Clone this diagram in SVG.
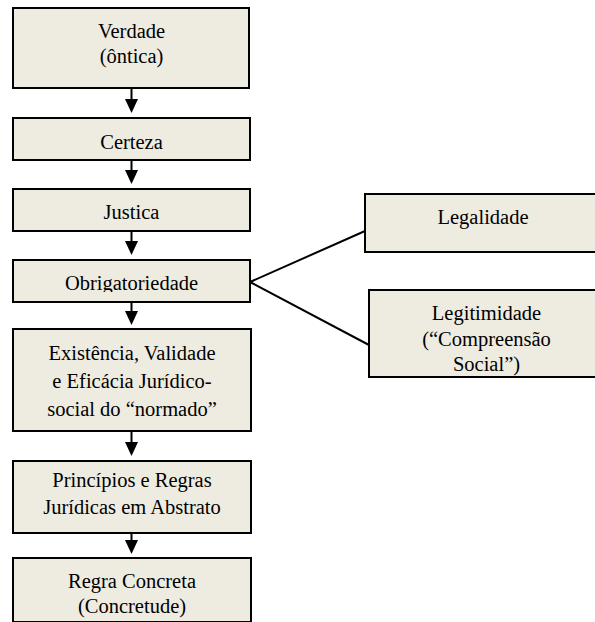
<svg xmlns="http://www.w3.org/2000/svg" width="595" height="622" viewBox="0 0 595 622">
  <defs>
    <style>
      .box { fill: #EEECE1; stroke: #000; stroke-width: 2; }
      .lbl { font-size: 20.5px; fill: #000; text-anchor: middle; }
      .flow { stroke: #000; stroke-width: 2; fill: none; }
    </style>
    <marker id="head" markerUnits="userSpaceOnUse" markerWidth="14" markerHeight="14" refX="10" refY="6.5" orient="auto">
      <path d="M0,0 L14,6.5 L0,13 z" fill="#000"/>
    </marker>
    <clipPath id="obrigClip">
      <rect x="13" y="260" width="237" height="32"/>
    </clipPath>
  </defs>
  <rect width="595" height="622" fill="#fff"/>

  <!-- connectors -->
  <g id="connectors">
    <line class="flow" x1="131.5" y1="88" x2="131.5" y2="109" marker-end="url(#head)"/>
    <line class="flow" x1="131.5" y1="160" x2="131.5" y2="180" marker-end="url(#head)"/>
    <line class="flow" x1="131.5" y1="231" x2="131.5" y2="251" marker-end="url(#head)"/>
    <line class="flow" x1="131.5" y1="302" x2="131.5" y2="321" marker-end="url(#head)"/>
    <line class="flow" x1="131.5" y1="431" x2="131.5" y2="452" marker-end="url(#head)"/>
    <line class="flow" x1="131.5" y1="533" x2="131.5" y2="550" marker-end="url(#head)"/>
    <line class="flow" x1="250" y1="282" x2="365" y2="231"/>
    <line class="flow" x1="250" y1="282" x2="369" y2="345"/>
  </g>

  <g font-family="'Liberation Serif', 'Times New Roman', Times, serif">
    <g id="verdade">
      <rect class="box" x="13" y="8" width="236" height="80"/>
      <text class="lbl" x="131.5" y="38">Verdade</text>
      <text class="lbl" x="131.5" y="63">(ôntica)</text>
    </g>

    <g id="certeza">
      <rect class="box" x="13" y="118" width="237" height="42"/>
      <text class="lbl" x="131.5" y="149">Certeza</text>
    </g>

    <g id="justica">
      <rect class="box" x="13" y="189" width="237" height="42"/>
      <text class="lbl" x="131.5" y="219">Justica</text>
    </g>

    <g id="obrigatoriedade">
      <rect class="box" x="13" y="260" width="237" height="42"/>
      <text class="lbl" x="131.5" y="290" clip-path="url(#obrigClip)">Obrigatoriedade</text>
    </g>

    <g id="existencia">
      <rect class="box" x="13" y="329" width="238" height="102"/>
      <text class="lbl" x="132" y="360">Existência, Validade</text>
      <text class="lbl" x="132" y="388">e Eficácia Jurídico-</text>
      <text class="lbl" x="132" y="416">social do “normado”</text>
    </g>

    <g id="principios">
      <rect class="box" x="13" y="461" width="238" height="72"/>
      <text class="lbl" x="132" y="487">Princípios e Regras</text>
      <text class="lbl" x="132" y="514">Jurídicas em Abstrato</text>
    </g>

    <g id="regra-concreta">
      <rect class="box" x="13" y="558" width="238" height="64"/>
      <text class="lbl" x="132" y="588">Regra Concreta</text>
      <text class="lbl" x="132" y="613">(Concretude)</text>
    </g>

    <g id="legalidade">
      <rect class="box" x="365" y="194" width="240" height="58"/>
      <text class="lbl" x="483" y="224">Legalidade</text>
    </g>

    <g id="legitimidade">
      <rect class="box" x="369" y="290" width="240" height="87"/>
      <text class="lbl" x="486.5" y="320">Legitimidade</text>
      <text class="lbl" x="486.5" y="346">(“Compreensão</text>
      <text class="lbl" x="486.5" y="371">Social”)</text>
    </g>
  </g>
</svg>
